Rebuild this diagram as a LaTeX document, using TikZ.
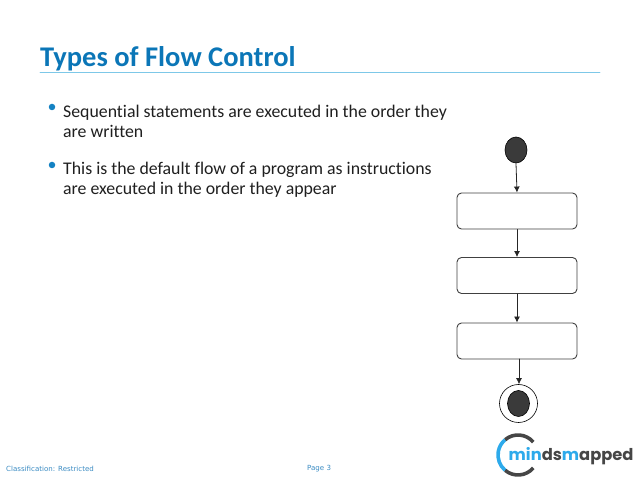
\documentclass[tikz,border=0pt]{standalone}
\usepackage{fontspec}
\setmainfont[Ligatures=NoCommon]{Carlito}
\newfontfamily\footfont{DejaVu Sans}
\newfontfamily\logofont{Poppins}
\usepackage{tikz}
\usetikzlibrary{arrows.meta}
\usetikzlibrary{positioning,shapes.geometric}
\definecolor{titleblue}{RGB}{11,118,183}
\definecolor{ruleblue}{RGB}{125,200,232}
\definecolor{bulletblue}{RGB}{20,130,195}
\definecolor{footblue}{RGB}{60,140,195}
\definecolor{darkfill}{RGB}{58,58,58}
\definecolor{logoblue}{RGB}{45,170,235}
\definecolor{logodark}{RGB}{70,70,70}
\tikzset{
  bodytext/.style={anchor=north west,inner sep=0pt,align=left,font=\fontsize{17.8}{20}\selectfont,text=black!88},
  bullettext/.style={anchor=center,circle,fill=bulletblue,inner sep=0pt,minimum size=6.5pt},
  foottext/.style={anchor=west,inner sep=0pt,font=\footfont\fontsize{7.05}{9}\selectfont,text=footblue},
  actionbox/.style={draw=black!75,line width=0.9pt,rounded corners=4.5pt,minimum width=120pt,minimum height=36pt,inner sep=0pt,fill=white},
  startdot/.style={ellipse,draw=black,fill=darkfill,line width=0.6pt,minimum width=22pt,minimum height=26pt,inner sep=0pt},
  flowarrow/.style={-{Latex[length=6pt,width=6pt]},draw=black!85,line width=0.8pt},
  logoarc/.style={line width=3.6pt,line cap=butt},
  logoletters/.style={inner sep=0pt,font=\logofont\bfseries\fontsize{16.3}{17}\selectfont}
}
\begin{document}
\begin{tikzpicture}[x=1pt,y=-1pt,line cap=round,line join=round]
\useasboundingbox (0,0) rectangle (638,478);
% title
\node (title) [anchor=base west,inner sep=0pt,font=\bfseries\fontsize{28.5}{30}\selectfont,text=titleblue] at (40,66.5) {Types of Flow Control};
\coordinate (ruleL) at (40,72);
\coordinate (ruleR) at (600,72);
\draw [ruleblue,line width=0.7pt] (ruleL) -- (ruleR);
% bullets
\node (bulletA) [bullettext] at (52,107) {};
\node (textA) [bodytext] at (63,104.5) {Sequential statements are executed in the order they\\are written};
\node (bulletB) [bullettext] at (52,165) {};
\node (textB) [bodytext] at (63,162) {This is the default flow of a program as instructions\\are executed in the order they appear};
% flow
\node (start) [startdot] at (516,150) {};
\node (boxA) [actionbox] at (517,211) {};
\node (boxB) [actionbox] at (517,275.5) {};
\node (boxC) [actionbox] at (517,341) {};
\node (stop) [circle,draw=black,line width=0.6pt,minimum size=38pt,inner sep=0pt] at (518.5,403.5) {};
\node (stopdot) [startdot] at (518.5,403.5) {};
\draw [flowarrow] (start.south) -- (boxA.north);
\draw [flowarrow] (boxA.south) -- (boxB.north);
\draw [flowarrow] (boxB.south) -- (boxC.north);
\coordinate (lastTop) at (519,359);
\draw [flowarrow] (lastTop) -- (stop.north -| lastTop);
% logo
\coordinate (logoC) at (518,455);
\draw [logoarc,logoblue] ([shift={(130:20)}]logoC) arc[start angle=130,end angle=230,radius=20];
\draw [logoarc,logodark] ([shift={(230:20)}]logoC) arc[start angle=230,end angle=320,radius=20];
\draw [logoarc,logodark] ([shift={(40:20)}]logoC) arc[start angle=40,end angle=130,radius=20];
\node (logoname) [logoletters,anchor=base west,fill=white,inner xsep=1pt] at (507.5,461) {\textcolor{logoblue}{min}\textcolor{logodark}{ds}\textcolor{logoblue}{m}\textcolor{logodark}{apped}};
% footer
\node (classif) [foottext] at (6,469) {Classification: Restricted};
\node (page) [foottext] at (307,469) {Page 3};
\end{tikzpicture}
\end{document}
